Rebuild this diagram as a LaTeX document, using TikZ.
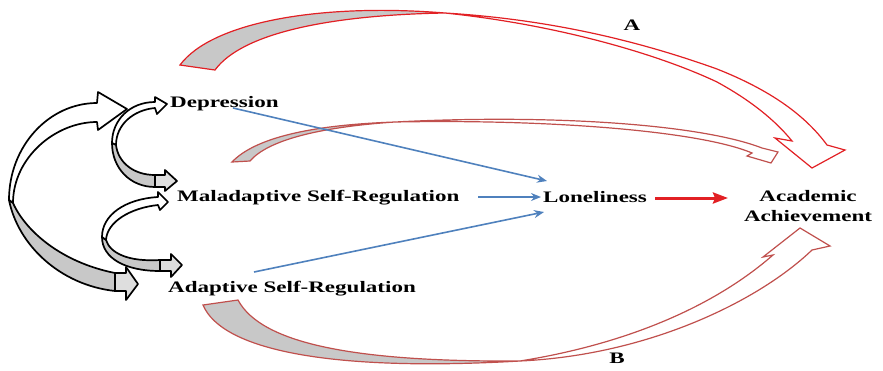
\documentclass[tikz,border=0pt]{standalone}
\usepackage{fontspec}
\usepackage{graphicx}
\setmainfont{Liberation Serif}
\usetikzlibrary{arrows.meta}
\definecolor{brightred}{RGB}{226,32,36}
\definecolor{dullred}{RGB}{192,80,77}
\definecolor{linkblue}{RGB}{79,129,189}
\definecolor{backgray}{RGB}{200,200,200}
\definecolor{tipgray}{RGB}{222,222,222}
\newcommand{\wide}[1]{\scalebox{1.44}[1]{#1}}

\begin{document}
\begin{tikzpicture}[x=1pt,y=-1pt,
  bandfront/.style={draw=black,line width=1.7pt,line join=round,fill=white},
  bandback/.style={draw=black,line width=1.7pt,line join=round,fill=backgray},
  bandtip/.style={draw=black,line width=1.7pt,line join=round,fill=tipgray},
  redfront/.style={draw=brightred,line width=1.2pt,fill=white},
  redback/.style={draw=brightred,line width=1.2pt,fill=backgray},
  dullfront/.style={draw=dullred,line width=1.2pt,fill=white},
  dullback/.style={draw=dullred,line width=1.2pt,fill=backgray},
  link/.style={draw=linkblue,line width=1.6pt,-{Stealth[length=10pt,width=8pt]}},
  mainlink/.style={draw=brightred,line width=3pt,-{Stealth[length=15pt,width=11pt,inset=2pt]}},
  lbl/.style={inner sep=0pt,font=\fontsize{16}{20}\selectfont\bfseries},
]
\useasboundingbox (0,0) rectangle (883,370);

% ---- large loop: Depression <-> Adaptive Self-Regulation
\filldraw[bandfront] (97,103) .. controls (49,103) and (9,146) .. (9,200)
  .. controls (10,201) and (12,202) .. (13,203)
  .. controls (13,158) and (55,122) .. (97,122)
  -- (98,130) -- (127,109) -- (98,92) -- cycle;
\filldraw[bandback] (9,200) .. controls (18,245) and (60,285) .. (115,291)
  -- (115,273) .. controls (60,262) and (25,230) .. (13,203) -- cycle;
\filldraw[bandtip] (115,273) -- (126,273) -- (126,267) -- (138,284)
  -- (126,300) -- (126,291) -- (115,291) -- cycle;

% ---- small loop: Depression <-> Maladaptive Self-Regulation
\filldraw[bandfront] (155,102) .. controls (130,102) and (112,120) .. (112,143)
  .. controls (113,144) and (115,145) .. (116,145)
  .. controls (116,125) and (133,110) .. (155,108)
  -- (157,114) -- (167,104) -- (155,97) -- cycle;
\filldraw[bandback] (112,143) .. controls (112,168) and (130,187) .. (155,187)
  -- (155,175) .. controls (133,175) and (118,162) .. (116,145) -- cycle;
\filldraw[bandtip] (155,175) -- (165,175) -- (165,170) -- (177,181)
  -- (165,191) -- (165,187) -- (155,187) -- cycle;

% ---- small loop: Maladaptive <-> Adaptive Self-Regulation
\filldraw[bandfront] (158,197) .. controls (125,199) and (102,215) .. (102,237)
  .. controls (103,238) and (105,240) .. (106,240)
  .. controls (107,222) and (130,208) .. (158,205)
  -- (160,210) -- (168,202) -- (158,192) -- cycle;
\filldraw[bandback] (102,237) .. controls (102,258) and (125,271) .. (160,271)
  -- (160,260) .. controls (128,262) and (110,253) .. (106,240) -- cycle;
\filldraw[bandtip] (160,260) -- (171,260) -- (171,254) -- (182,265)
  -- (171,277) -- (171,271) -- (160,271) -- cycle;

% ---- path A (top)
\filldraw[redfront] (445,13) .. controls (560,20) and (650,45) .. (717,69)
  .. controls (770,90) and (805,115) .. (827,145) -- (845,150) -- (812,168)
  -- (775,138) -- (792,141) .. controls (775,120) and (750,100) .. (717,82)
  .. controls (660,55) and (560,25) .. (445,13) -- cycle;
\filldraw[redback] (180,65) .. controls (212,22) and (320,3) .. (445,13)
  .. controls (330,15) and (242,33) .. (215,70) -- cycle;

% ---- middle curved path
\filldraw[dullfront] (395,122) .. controls (550,114) and (700,124) .. (762,148)
  -- (778,152) -- (771,163) -- (747,156) -- (752,153)
  .. controls (700,131) and (550,119) .. (395,122) -- cycle;
\filldraw[dullback] (232,162) .. controls (255,138) and (310,125) .. (395,122)
  .. controls (320,127) and (268,140) .. (250,161) -- cycle;

% ---- path B (bottom)
\filldraw[dullfront] (520,361) .. controls (620,345) and (710,310) .. (773,255)
  -- (763,257) -- (800,228) -- (830,246) -- (812,250)
  .. controls (760,300) and (650,355) .. (520,361) -- cycle;
\filldraw[dullback] (203,305) .. controls (222,350) and (330,372) .. (520,361)
  .. controls (360,362) and (262,345) .. (238,300) -- cycle;

% ---- labels
\node[lbl,anchor=base west] (dep) at (170,107) {\wide{Depression}};
\node[lbl,anchor=base west] (mal) at (177,201) {\wide{Maladaptive Self-Regulation}};
\node[lbl,anchor=base west] (ada) at (168,292) {\wide{Adaptive Self-Regulation}};
\node[lbl,anchor=base west] (lon) at (543,202) {\wide{Loneliness}};
\node[lbl,align=center] (ach) at (808,206.5) {\wide{Academic}\\\wide{Achievement}};
\node[lbl,anchor=base] (pathA) at (632,30) {\wide{A}};
\node[lbl,anchor=base] (pathB) at (617,363) {\wide{B}};

% ---- straight links
\coordinate (depout) at (233,108);
\coordinate (lonin1) at (547,181);
\coordinate (malout) at (478,197);
\coordinate (lonin2) at (541,197);
\coordinate (adaout) at (254,272);
\coordinate (lonin3) at (544,212);
\coordinate (lonout) at (655,198);
\coordinate (achin) at (728,198);
\draw[link] (depout) -- (lonin1);
\draw[link] (malout) -- (lonin2);
\draw[link] (adaout) -- (lonin3);
\draw[mainlink] (lonout) -- (achin);
\end{tikzpicture}
\end{document}
